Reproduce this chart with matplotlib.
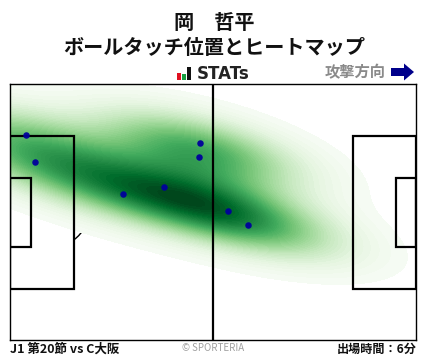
import matplotlib
matplotlib.use('Agg')
import matplotlib.pyplot as plt
from matplotlib.patches import Rectangle, Arc, FancyArrow
import seaborn as sns

plt.rcParams['font.family'] = ['Noto Sans CJK JP', 'DejaVu Sans']

# ball touches, metres (attack to the right)
touch_x = [4.0, 6.3, 29.1, 39.7, 49.0, 48.7, 56.2, 61.4]
touch_y = [54.6, 47.4, 38.9, 40.8, 52.5, 48.7, 34.4, 30.7]

player = '岡　哲平'
subtitle = 'ボールタッチ位置とヒートマップ'
match_label = 'J1 第20節 vs C大阪'
minutes_label = '出場時間：6分'
direction_label = '攻撃方向'
credit = '© SPORTERIA'
logo_text = 'STATs'

W, H = 428, 359
fig = plt.figure(figsize=(W / 100, H / 100), dpi=100)

def px(x, y):
    return x / W, 1 - y / H

# pitch
ax = fig.add_axes([10.2 / W, 1 - 340.2 / H, 406 / W, 256 / H])
ax.set_xlim(0, 105)
ax.set_ylim(0, 68)
ax.set_xticks([])
ax.set_yticks([])
for s in ax.spines.values():
    s.set_linewidth(1.0)
    s.set_zorder(10)

# arcs go under the heatmap, only a tiny bit shows
ax.add_patch(Arc((11, 34), 18.3, 18.3, theta1=-53, theta2=53, color='k', lw=1.0, zorder=1))
ax.add_patch(Arc((94, 34), 18.3, 18.3, theta1=127, theta2=233, color='k', lw=1.0, zorder=1))

sns.kdeplot(x=touch_x, y=touch_y, fill=True, levels=60, thresh=0.018, cmap='Greens', bw_adjust=1.15,
            ax=ax, zorder=2, antialiased=False, clip=((-40, 145), (-40, 108)))
ax.set_xlim(0, 105)
ax.set_ylim(0, 68)
ax.set_xlabel('')
ax.set_ylabel('')

for x0, w in [(0, 16.5), (88.7, 16.3)]:
    ax.add_patch(Rectangle((x0, 13.65), w, 40.7, fill=False, ec='k', lw=1.6, zorder=5))
for x0, w in [(0, 5.5), (99.7, 5.3)]:
    ax.add_patch(Rectangle((x0, 24.84), w, 18.32, fill=False, ec='k', lw=1.6, zorder=5))
ax.plot([52.5, 52.5], [0, 68], color='k', lw=1.6, zorder=5)

ax.scatter(touch_x, touch_y, s=22, color='#00009c', linewidths=0, zorder=6, alpha=0.95)

# titles
fig.text(*px(214, 22), player, ha='center', va='center', fontsize=14.5, fontweight='bold', color='#111111')
fig.text(*px(214, 47), subtitle, ha='center', va='center', fontsize=14.5, fontweight='bold', color='#111111')
fig.text(*px(355, 72), direction_label, ha='center', va='center', fontsize=11, fontweight='bold', color='#8a8a8a')

# logo + arrow, drawn in pixel coords on an overlay
ov = fig.add_axes([0, 0, 1, 1], facecolor='none')
ov.set_xlim(0, W)
ov.set_ylim(H, 0)
ov.axis('off')
for x0, y0, c in [(177, 73, '#e01020'), (182, 74, '#18a040'), (187, 67, '#111111')]:
    ov.add_patch(Rectangle((x0, y0), 4, 80 - y0, fc=c, ec='none'))
ov.text(197, 74, logo_text, ha='left', va='center', fontsize=12, fontweight='bold', color='#222222',
        fontfamily='DejaVu Sans')
ov.add_patch(FancyArrow(391, 72, 23, 0, width=8, head_width=17, head_length=10,
                        length_includes_head=True, fc='#00008b', ec='none'))

# footer
fig.text(*px(10, 349.5), match_label, ha='left', va='center', fontsize=9, fontweight='bold', color='#111111')
fig.text(*px(417, 349.5), minutes_label, ha='right', va='center', fontsize=8.7, fontweight='bold', color='#111111')
fig.text(*px(213, 348), credit, ha='center', va='center', fontsize=7, color='#a0a0a0')

fig.savefig('out.png', dpi=100)
